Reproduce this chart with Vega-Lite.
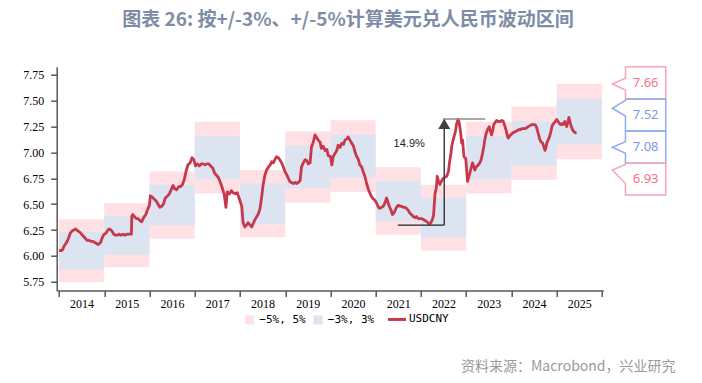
{
  "$schema": "https://vega.github.io/schema/vega-lite/v6.json",
  "width": 546.6,
  "height": 223.8,
  "autosize": "none",
  "padding": {"left": 56.7, "top": 66.7, "right": 98.7, "bottom": 92.5},
  "background": "white",
  "title": {
    "text": "图表 26: 按+/-3%、+/-5%计算美元兑人民币波动区间",
    "font": "Noto Sans CJK SC",
    "fontSize": 19,
    "fontWeight": "bold",
    "color": "#7d8da6",
    "anchor": "middle",
    "frame": "group",
    "dx": 18,
    "offset": 34
  },
  "config": {
    "view": {"stroke": null},
    "axis": {
      "domainColor": "#595959",
      "domainWidth": 1.5,
      "tickColor": "#595959",
      "tickWidth": 1.5,
      "labelFont": "Liberation Serif",
      "labelFontSize": 12,
      "labelColor": "#000000",
      "grid": false
    }
  },
  "datasets": {
    "bands": [
      {"band": "−5%, 5%", "t": 2014, "t2": 2015, "v": 5.748, "v2": 6.353},
      {"band": "−5%, 5%", "t": 2015, "t2": 2016, "v": 5.890, "v2": 6.510},
      {"band": "−5%, 5%", "t": 2016, "t2": 2017, "v": 6.166, "v2": 6.815},
      {"band": "−5%, 5%", "t": 2017, "t2": 2018, "v": 6.603, "v2": 7.298},
      {"band": "−5%, 5%", "t": 2018, "t2": 2019, "v": 6.180, "v2": 6.830},
      {"band": "−5%, 5%", "t": 2019, "t2": 2020, "v": 6.517, "v2": 7.203},
      {"band": "−5%, 5%", "t": 2020, "t2": 2021, "v": 6.617, "v2": 7.313},
      {"band": "−5%, 5%", "t": 2021, "t2": 2022, "v": 6.204, "v2": 6.857},
      {"band": "−5%, 5%", "t": 2022, "t2": 2023, "v": 6.052, "v2": 6.689},
      {"band": "−5%, 5%", "t": 2023, "t2": 2024, "v": 6.603, "v2": 7.298},
      {"band": "−5%, 5%", "t": 2024, "t2": 2025, "v": 6.736, "v2": 7.445},
      {"band": "−5%, 5%", "t": 2025, "t2": 2026, "v": 6.935, "v2": 7.665},
      {"band": "−3%, 3%", "t": 2014, "t2": 2015, "v": 5.869, "v2": 6.232},
      {"band": "−3%, 3%", "t": 2015, "t2": 2016, "v": 6.014, "v2": 6.386},
      {"band": "−3%, 3%", "t": 2016, "t2": 2017, "v": 6.295, "v2": 6.685},
      {"band": "−3%, 3%", "t": 2017, "t2": 2018, "v": 6.742, "v2": 7.159},
      {"band": "−3%, 3%", "t": 2018, "t2": 2019, "v": 6.310, "v2": 6.700},
      {"band": "−3%, 3%", "t": 2019, "t2": 2020, "v": 6.654, "v2": 7.066},
      {"band": "−3%, 3%", "t": 2020, "t2": 2021, "v": 6.756, "v2": 7.174},
      {"band": "−3%, 3%", "t": 2021, "t2": 2022, "v": 6.334, "v2": 6.726},
      {"band": "−3%, 3%", "t": 2022, "t2": 2023, "v": 6.179, "v2": 6.561},
      {"band": "−3%, 3%", "t": 2023, "t2": 2024, "v": 6.742, "v2": 7.159},
      {"band": "−3%, 3%", "t": 2024, "t2": 2025, "v": 6.877, "v2": 7.303},
      {"band": "−3%, 3%", "t": 2025, "t2": 2026, "v": 7.081, "v2": 7.519}
    ],
    "fx": [
      {"t": 2014.00, "v": 6.05}, {"t": 2014.04, "v": 6.05}, {"t": 2014.08, "v": 6.06}, {"t": 2014.12, "v": 6.10},
      {"t": 2014.17, "v": 6.13}, {"t": 2014.21, "v": 6.17}, {"t": 2014.25, "v": 6.22}, {"t": 2014.29, "v": 6.24},
      {"t": 2014.33, "v": 6.25}, {"t": 2014.37, "v": 6.26}, {"t": 2014.42, "v": 6.24}, {"t": 2014.46, "v": 6.23},
      {"t": 2014.50, "v": 6.21}, {"t": 2014.54, "v": 6.19}, {"t": 2014.58, "v": 6.17}, {"t": 2014.62, "v": 6.15},
      {"t": 2014.67, "v": 6.15}, {"t": 2014.71, "v": 6.14}, {"t": 2014.75, "v": 6.14}, {"t": 2014.79, "v": 6.13},
      {"t": 2014.83, "v": 6.12}, {"t": 2014.87, "v": 6.11}, {"t": 2014.92, "v": 6.13}, {"t": 2014.96, "v": 6.18},
      {"t": 2015.00, "v": 6.21}, {"t": 2015.04, "v": 6.22}, {"t": 2015.08, "v": 6.25}, {"t": 2015.12, "v": 6.26},
      {"t": 2015.17, "v": 6.24}, {"t": 2015.21, "v": 6.21}, {"t": 2015.25, "v": 6.20}, {"t": 2015.29, "v": 6.20},
      {"t": 2015.33, "v": 6.21}, {"t": 2015.37, "v": 6.20}, {"t": 2015.42, "v": 6.21}, {"t": 2015.46, "v": 6.20},
      {"t": 2015.50, "v": 6.21}, {"t": 2015.54, "v": 6.21}, {"t": 2015.60, "v": 6.21}, {"t": 2015.61, "v": 6.38},
      {"t": 2015.63, "v": 6.40}, {"t": 2015.67, "v": 6.38}, {"t": 2015.71, "v": 6.36}, {"t": 2015.75, "v": 6.36},
      {"t": 2015.79, "v": 6.34}, {"t": 2015.83, "v": 6.33}, {"t": 2015.87, "v": 6.37}, {"t": 2015.92, "v": 6.40},
      {"t": 2015.96, "v": 6.45}, {"t": 2016.00, "v": 6.49}, {"t": 2016.02, "v": 6.58}, {"t": 2016.06, "v": 6.57},
      {"t": 2016.10, "v": 6.55}, {"t": 2016.15, "v": 6.53}, {"t": 2016.19, "v": 6.50}, {"t": 2016.23, "v": 6.47},
      {"t": 2016.27, "v": 6.48}, {"t": 2016.31, "v": 6.50}, {"t": 2016.35, "v": 6.56}, {"t": 2016.40, "v": 6.58},
      {"t": 2016.44, "v": 6.60}, {"t": 2016.48, "v": 6.64}, {"t": 2016.52, "v": 6.68}, {"t": 2016.56, "v": 6.65},
      {"t": 2016.60, "v": 6.64}, {"t": 2016.65, "v": 6.67}, {"t": 2016.69, "v": 6.67}, {"t": 2016.73, "v": 6.69},
      {"t": 2016.77, "v": 6.74}, {"t": 2016.81, "v": 6.82}, {"t": 2016.85, "v": 6.88}, {"t": 2016.90, "v": 6.90},
      {"t": 2016.94, "v": 6.95}, {"t": 2016.98, "v": 6.93}, {"t": 2017.02, "v": 6.87}, {"t": 2017.06, "v": 6.89},
      {"t": 2017.10, "v": 6.87}, {"t": 2017.15, "v": 6.89}, {"t": 2017.19, "v": 6.89}, {"t": 2017.23, "v": 6.88},
      {"t": 2017.27, "v": 6.89}, {"t": 2017.31, "v": 6.89}, {"t": 2017.35, "v": 6.87}, {"t": 2017.40, "v": 6.85},
      {"t": 2017.44, "v": 6.80}, {"t": 2017.48, "v": 6.78}, {"t": 2017.52, "v": 6.76}, {"t": 2017.56, "v": 6.72},
      {"t": 2017.60, "v": 6.67}, {"t": 2017.65, "v": 6.60}, {"t": 2017.69, "v": 6.47}, {"t": 2017.72, "v": 6.62},
      {"t": 2017.77, "v": 6.60}, {"t": 2017.81, "v": 6.63}, {"t": 2017.85, "v": 6.61}, {"t": 2017.90, "v": 6.60},
      {"t": 2017.94, "v": 6.61}, {"t": 2017.98, "v": 6.56}, {"t": 2018.04, "v": 6.48}, {"t": 2018.07, "v": 6.32},
      {"t": 2018.11, "v": 6.28}, {"t": 2018.15, "v": 6.30}, {"t": 2018.18, "v": 6.32}, {"t": 2018.22, "v": 6.30},
      {"t": 2018.26, "v": 6.28}, {"t": 2018.30, "v": 6.32}, {"t": 2018.33, "v": 6.35}, {"t": 2018.37, "v": 6.38},
      {"t": 2018.40, "v": 6.40}, {"t": 2018.44, "v": 6.45}, {"t": 2018.48, "v": 6.57}, {"t": 2018.51, "v": 6.68},
      {"t": 2018.55, "v": 6.78}, {"t": 2018.59, "v": 6.83}, {"t": 2018.63, "v": 6.86}, {"t": 2018.67, "v": 6.88},
      {"t": 2018.70, "v": 6.91}, {"t": 2018.74, "v": 6.90}, {"t": 2018.77, "v": 6.93}, {"t": 2018.81, "v": 6.96},
      {"t": 2018.85, "v": 6.95}, {"t": 2018.88, "v": 6.93}, {"t": 2018.92, "v": 6.90}, {"t": 2018.96, "v": 6.86},
      {"t": 2018.99, "v": 6.82}, {"t": 2019.05, "v": 6.77}, {"t": 2019.10, "v": 6.72}, {"t": 2019.14, "v": 6.71},
      {"t": 2019.18, "v": 6.70}, {"t": 2019.22, "v": 6.71}, {"t": 2019.25, "v": 6.70}, {"t": 2019.29, "v": 6.71},
      {"t": 2019.33, "v": 6.73}, {"t": 2019.36, "v": 6.86}, {"t": 2019.40, "v": 6.90}, {"t": 2019.44, "v": 6.93},
      {"t": 2019.48, "v": 6.92}, {"t": 2019.51, "v": 6.89}, {"t": 2019.55, "v": 6.90}, {"t": 2019.58, "v": 7.05},
      {"t": 2019.62, "v": 7.10}, {"t": 2019.66, "v": 7.17}, {"t": 2019.70, "v": 7.14}, {"t": 2019.73, "v": 7.12},
      {"t": 2019.77, "v": 7.10}, {"t": 2019.80, "v": 7.04}, {"t": 2019.84, "v": 7.06}, {"t": 2019.88, "v": 7.02},
      {"t": 2019.92, "v": 7.03}, {"t": 2019.95, "v": 6.97}, {"t": 2020.00, "v": 6.96}, {"t": 2020.03, "v": 6.88},
      {"t": 2020.06, "v": 6.96}, {"t": 2020.10, "v": 6.99}, {"t": 2020.14, "v": 7.02}, {"t": 2020.17, "v": 7.07},
      {"t": 2020.21, "v": 7.05}, {"t": 2020.25, "v": 7.09}, {"t": 2020.29, "v": 7.08}, {"t": 2020.32, "v": 7.12},
      {"t": 2020.36, "v": 7.13}, {"t": 2020.39, "v": 7.15}, {"t": 2020.43, "v": 7.12}, {"t": 2020.47, "v": 7.09},
      {"t": 2020.51, "v": 7.06}, {"t": 2020.54, "v": 7.01}, {"t": 2020.58, "v": 6.96}, {"t": 2020.61, "v": 6.94},
      {"t": 2020.65, "v": 6.88}, {"t": 2020.69, "v": 6.86}, {"t": 2020.72, "v": 6.82}, {"t": 2020.76, "v": 6.77},
      {"t": 2020.80, "v": 6.70}, {"t": 2020.84, "v": 6.64}, {"t": 2020.88, "v": 6.60}, {"t": 2020.91, "v": 6.57},
      {"t": 2020.95, "v": 6.55}, {"t": 2020.98, "v": 6.54}, {"t": 2021.02, "v": 6.51}, {"t": 2021.06, "v": 6.47},
      {"t": 2021.09, "v": 6.46}, {"t": 2021.13, "v": 6.47}, {"t": 2021.17, "v": 6.48}, {"t": 2021.21, "v": 6.52},
      {"t": 2021.24, "v": 6.56}, {"t": 2021.27, "v": 6.52}, {"t": 2021.30, "v": 6.48}, {"t": 2021.34, "v": 6.44},
      {"t": 2021.37, "v": 6.40}, {"t": 2021.41, "v": 6.42}, {"t": 2021.46, "v": 6.47}, {"t": 2021.50, "v": 6.49},
      {"t": 2021.54, "v": 6.48}, {"t": 2021.57, "v": 6.48}, {"t": 2021.61, "v": 6.47}, {"t": 2021.64, "v": 6.47},
      {"t": 2021.68, "v": 6.46}, {"t": 2021.72, "v": 6.44}, {"t": 2021.76, "v": 6.41}, {"t": 2021.79, "v": 6.40},
      {"t": 2021.83, "v": 6.38}, {"t": 2021.87, "v": 6.37}, {"t": 2021.90, "v": 6.38}, {"t": 2021.94, "v": 6.36},
      {"t": 2021.98, "v": 6.36}, {"t": 2022.02, "v": 6.36}, {"t": 2022.06, "v": 6.35}, {"t": 2022.10, "v": 6.34},
      {"t": 2022.13, "v": 6.33}, {"t": 2022.16, "v": 6.32}, {"t": 2022.18, "v": 6.31}, {"t": 2022.22, "v": 6.32},
      {"t": 2022.26, "v": 6.36}, {"t": 2022.28, "v": 6.40}, {"t": 2022.31, "v": 6.60}, {"t": 2022.34, "v": 6.66},
      {"t": 2022.36, "v": 6.77}, {"t": 2022.39, "v": 6.72}, {"t": 2022.42, "v": 6.69}, {"t": 2022.45, "v": 6.72},
      {"t": 2022.49, "v": 6.75}, {"t": 2022.53, "v": 6.76}, {"t": 2022.57, "v": 6.77}, {"t": 2022.61, "v": 6.82},
      {"t": 2022.63, "v": 6.90}, {"t": 2022.66, "v": 6.98}, {"t": 2022.68, "v": 7.06}, {"t": 2022.71, "v": 7.12},
      {"t": 2022.73, "v": 7.15}, {"t": 2022.76, "v": 7.20}, {"t": 2022.79, "v": 7.28}, {"t": 2022.82, "v": 7.32},
      {"t": 2022.84, "v": 7.30}, {"t": 2022.86, "v": 7.25}, {"t": 2022.88, "v": 7.18}, {"t": 2022.90, "v": 7.09},
      {"t": 2022.92, "v": 7.12}, {"t": 2022.95, "v": 6.96}, {"t": 2022.99, "v": 6.94}, {"t": 2023.03, "v": 6.72},
      {"t": 2023.06, "v": 6.77}, {"t": 2023.08, "v": 6.80}, {"t": 2023.11, "v": 6.85}, {"t": 2023.14, "v": 6.90},
      {"t": 2023.17, "v": 6.86}, {"t": 2023.19, "v": 6.83}, {"t": 2023.22, "v": 6.86}, {"t": 2023.25, "v": 6.87},
      {"t": 2023.30, "v": 6.90}, {"t": 2023.33, "v": 6.93}, {"t": 2023.36, "v": 6.99}, {"t": 2023.39, "v": 7.06},
      {"t": 2023.41, "v": 7.12}, {"t": 2023.44, "v": 7.18}, {"t": 2023.47, "v": 7.22}, {"t": 2023.51, "v": 7.25},
      {"t": 2023.54, "v": 7.20}, {"t": 2023.56, "v": 7.17}, {"t": 2023.59, "v": 7.22}, {"t": 2023.61, "v": 7.27},
      {"t": 2023.64, "v": 7.29}, {"t": 2023.67, "v": 7.31}, {"t": 2023.71, "v": 7.30}, {"t": 2023.75, "v": 7.30},
      {"t": 2023.79, "v": 7.31}, {"t": 2023.82, "v": 7.30}, {"t": 2023.85, "v": 7.26}, {"t": 2023.88, "v": 7.22},
      {"t": 2023.91, "v": 7.16}, {"t": 2023.93, "v": 7.14}, {"t": 2023.96, "v": 7.16}, {"t": 2023.98, "v": 7.17},
      {"t": 2024.03, "v": 7.19}, {"t": 2024.08, "v": 7.20}, {"t": 2024.12, "v": 7.21}, {"t": 2024.15, "v": 7.22},
      {"t": 2024.19, "v": 7.22}, {"t": 2024.23, "v": 7.23}, {"t": 2024.27, "v": 7.23}, {"t": 2024.30, "v": 7.23},
      {"t": 2024.34, "v": 7.24}, {"t": 2024.37, "v": 7.25}, {"t": 2024.41, "v": 7.26}, {"t": 2024.45, "v": 7.27},
      {"t": 2024.49, "v": 7.27}, {"t": 2024.52, "v": 7.27}, {"t": 2024.55, "v": 7.25}, {"t": 2024.57, "v": 7.22},
      {"t": 2024.60, "v": 7.17}, {"t": 2024.63, "v": 7.12}, {"t": 2024.66, "v": 7.10}, {"t": 2024.69, "v": 7.09},
      {"t": 2024.72, "v": 7.05}, {"t": 2024.74, "v": 7.02}, {"t": 2024.76, "v": 7.04}, {"t": 2024.78, "v": 7.09},
      {"t": 2024.81, "v": 7.12}, {"t": 2024.84, "v": 7.15}, {"t": 2024.87, "v": 7.20}, {"t": 2024.90, "v": 7.26},
      {"t": 2024.93, "v": 7.28}, {"t": 2024.97, "v": 7.30}, {"t": 2025.00, "v": 7.32}, {"t": 2025.03, "v": 7.30},
      {"t": 2025.06, "v": 7.28}, {"t": 2025.09, "v": 7.27}, {"t": 2025.12, "v": 7.28}, {"t": 2025.14, "v": 7.27},
      {"t": 2025.18, "v": 7.30}, {"t": 2025.22, "v": 7.25}, {"t": 2025.25, "v": 7.30}, {"t": 2025.27, "v": 7.34},
      {"t": 2025.29, "v": 7.30}, {"t": 2025.31, "v": 7.27}, {"t": 2025.35, "v": 7.22}, {"t": 2025.38, "v": 7.20},
      {"t": 2025.42, "v": 7.19}, {"t": 2025.44, "v": 7.19}
    ],
    "ann": [
      {"name": "base", "t": 2021.49, "t2": 2022.515, "v": 6.298},
      {"name": "top", "t": 2022.49, "t2": 2023.42, "v": 7.324},
      {"name": "stem", "t": 2022.515, "v": 6.298, "v2": 7.23}
    ],
    "head": [{"t": 2022.515, "v": 7.277}],
    "pct": [{"t": 2021.74, "v": 7.079, "label": "14.9%"}],
    "callouts": [
      {"c": "7.66", "k": "5", "o": 0, "t": 2026.52, "v": 7.83},
      {"c": "7.66", "k": "5", "o": 1, "t": 2027.41, "v": 7.83},
      {"c": "7.66", "k": "5", "o": 2, "t": 2027.41, "v": 7.518},
      {"c": "7.66", "k": "5", "o": 3, "t": 2026.52, "v": 7.518},
      {"c": "7.66", "k": "5", "o": 4, "t": 2026.52, "v": 7.605},
      {"c": "7.66", "k": "5", "o": 5, "t": 2026.23, "v": 7.663},
      {"c": "7.66", "k": "5", "o": 6, "t": 2026.52, "v": 7.718},
      {"c": "7.66", "k": "5", "o": 7, "t": 2026.52, "v": 7.83},
      {"c": "7.52", "k": "3", "o": 0, "t": 2026.52, "v": 7.518},
      {"c": "7.52", "k": "3", "o": 1, "t": 2027.41, "v": 7.518},
      {"c": "7.52", "k": "3", "o": 2, "t": 2027.41, "v": 7.208},
      {"c": "7.52", "k": "3", "o": 3, "t": 2026.52, "v": 7.208},
      {"c": "7.52", "k": "3", "o": 4, "t": 2026.52, "v": 7.353},
      {"c": "7.52", "k": "3", "o": 5, "t": 2026.23, "v": 7.428},
      {"c": "7.52", "k": "3", "o": 6, "t": 2026.52, "v": 7.505},
      {"c": "7.52", "k": "3", "o": 7, "t": 2026.52, "v": 7.518},
      {"c": "7.08", "k": "3", "o": 0, "t": 2026.52, "v": 7.208},
      {"c": "7.08", "k": "3", "o": 1, "t": 2027.41, "v": 7.208},
      {"c": "7.08", "k": "3", "o": 2, "t": 2027.41, "v": 6.896},
      {"c": "7.08", "k": "3", "o": 3, "t": 2026.52, "v": 6.896},
      {"c": "7.08", "k": "3", "o": 4, "t": 2026.52, "v": 6.993},
      {"c": "7.08", "k": "3", "o": 5, "t": 2026.23, "v": 7.051},
      {"c": "7.08", "k": "3", "o": 6, "t": 2026.52, "v": 7.105},
      {"c": "7.08", "k": "3", "o": 7, "t": 2026.52, "v": 7.208},
      {"c": "6.93", "k": "5", "o": 0, "t": 2026.52, "v": 6.896},
      {"c": "6.93", "k": "5", "o": 1, "t": 2027.41, "v": 6.896},
      {"c": "6.93", "k": "5", "o": 2, "t": 2027.41, "v": 6.588},
      {"c": "6.93", "k": "5", "o": 3, "t": 2026.52, "v": 6.588},
      {"c": "6.93", "k": "5", "o": 4, "t": 2026.52, "v": 6.70},
      {"c": "6.93", "k": "5", "o": 5, "t": 2026.23, "v": 6.83},
      {"c": "6.93", "k": "5", "o": 6, "t": 2026.52, "v": 6.885},
      {"c": "6.93", "k": "5", "o": 7, "t": 2026.52, "v": 6.896}
    ],
    "calloutText": [
      {"c": "7.66", "k": "5", "t": 2026.965, "v": 7.674},
      {"c": "7.52", "k": "3", "t": 2026.965, "v": 7.363},
      {"c": "7.08", "k": "3", "t": 2026.965, "v": 7.052},
      {"c": "6.93", "k": "5", "t": 2026.965, "v": 6.742}
    ]
  },
  "encoding": {
    "x": {
      "field": "t", "type": "quantitative",
      "scale": {"domain": [2013.95, 2026.03], "nice": false, "zero": false},
      "axis": {
        "values": [2014, 2015, 2016, 2017, 2018, 2019, 2020, 2021, 2022, 2023, 2024, 2025, 2026],
        "format": "d",
        "labelExpr": "datum.value > 2025.5 ? '' : datum.label",
        "labelOffset": 22.6,
        "labelPadding": 2,
        "tickSize": 6,
        "labelFlush": false,
        "labelOverlap": false,
        "title": "资料来源：Macrobond，兴业研究",
        "titleFont": "Noto Sans CJK SC",
        "titleFontSize": 14,
        "titleFontWeight": "normal",
        "titleColor": "#9a9a9a",
        "titleAnchor": "end",
        "titleAlign": "right",
        "titleX": 618.3,
        "titleY": 75.5,
        "titleBaseline": "middle"
      }
    },
    "y": {
      "field": "v", "type": "quantitative",
      "scale": {"domain": [5.665, 7.83], "nice": false, "zero": false},
      "axis": {
        "values": [5.75, 6.0, 6.25, 6.5, 6.75, 7.0, 7.25, 7.5, 7.75],
        "format": ".2f",
        "tickSize": 6,
        "labelPadding": 7,
        "title": null
      }
    }
  },
  "layer": [
    {
      "data": {"name": "bands"},
      "mark": {"type": "rect"},
      "encoding": {
        "x2": {"field": "t2"},
        "y2": {"field": "v2"},
        "color": {
          "field": "band",
          "type": "nominal",
          "scale": {"domain": ["−5%, 5%", "−3%, 3%", "USDCNY"], "range": ["#ffe1e5", "#dbe4f0", "#c8384c"]},
          "legend": {
            "orient": "none",
            "legendX": 188.3,
            "legendY": 247,
            "direction": "horizontal",
            "title": null,
            "padding": 0,
            "columnPadding": 7.5,
            "labelFont": "DejaVu Sans Mono",
            "labelFontSize": 11,
            "labelColor": "#000000",
            "labelOffset": 5,
            "symbolSize": 144,
            "symbolStrokeWidth": 0,
            "encode": {
              "symbols": {
                "update": {
                  "shape": {"signal": "datum.value === 'USDCNY' ? 'stroke' : 'square'"},
                  "size": {"signal": "datum.value === 'USDCNY' ? 324 : 81"},
                  "x": {"signal": "datum.value === 'USDCNY' ? 9 : 4.65"},
                  "strokeWidth": {"signal": "datum.value === 'USDCNY' ? 3 : 0"},
                  "stroke": {"signal": "datum.value === 'USDCNY' ? '#c8384c' : 'transparent'"},
                  "fill": {"signal": "datum.value === 'USDCNY' ? 'transparent' : (datum.value === '−5%, 5%' ? '#ffe1e5' : '#dbe4f0')"},
                  "opacity": {"value": 1}
                }
              },
              "labels": {
                "update": {
                  "x": {"signal": "datum.value === 'USDCNY' ? 21 : 14.3"}
                }
              }
            }
          }
        }
      }
    },
    {
      "data": {"name": "fx"},
      "mark": {"type": "line", "strokeWidth": 2.8, "strokeJoin": "round", "interpolate": "linear"},
      "encoding": {
        "color": {"datum": "USDCNY", "type": "nominal"}
      }
    },
    {
      "data": {"name": "ann"},
      "transform": [{"filter": "datum.name === 'base'"}],
      "mark": {"type": "rule", "color": "#222222", "strokeWidth": 1.2},
      "encoding": {
        "x2": {"field": "t2"}
      }
    },
    {
      "data": {"name": "ann"},
      "transform": [{"filter": "datum.name === 'top'"}],
      "mark": {"type": "rule", "color": "#8c8c8c", "strokeWidth": 1.6},
      "encoding": {
        "x2": {"field": "t2"}
      }
    },
    {
      "data": {"name": "ann"},
      "transform": [{"filter": "datum.name === 'stem'"}],
      "mark": {"type": "rule", "color": "#404040", "strokeWidth": 1.5},
      "encoding": {
        "y2": {"field": "v2"}
      }
    },
    {
      "data": {"name": "head"},
      "mark": {"type": "point", "shape": "triangle-up", "filled": true, "size": 144, "color": "#404040", "opacity": 1},
      "encoding": {}
    },
    {
      "data": {"name": "pct"},
      "mark": {"type": "text", "font": "Liberation Sans", "fontSize": 11, "color": "#222222", "align": "center", "baseline": "middle"},
      "encoding": {
        "text": {"field": "label"}
      }
    },
    {
      "data": {"name": "callouts"},
      "mark": {"type": "line", "strokeWidth": 1.5, "clip": false},
      "encoding": {
        "order": {"field": "o", "type": "quantitative"},
        "detail": {"field": "c", "type": "nominal"},
        "stroke": {"field": "k", "type": "nominal", "scale": {"domain": ["5", "3"], "range": ["#f7a5b5", "#8eacf0"]}, "legend": null}
      }
    },
    {
      "data": {"name": "calloutText"},
      "mark": {"type": "text", "font": "Noto Sans", "fontSize": 13, "align": "center", "baseline": "middle", "clip": false},
      "encoding": {
        "text": {"field": "c"},
        "fill": {"field": "k", "type": "nominal", "scale": {"domain": ["5", "3"], "range": ["#f3728c", "#7b9be6"]}, "legend": null}
      }
    }
  ]
}
